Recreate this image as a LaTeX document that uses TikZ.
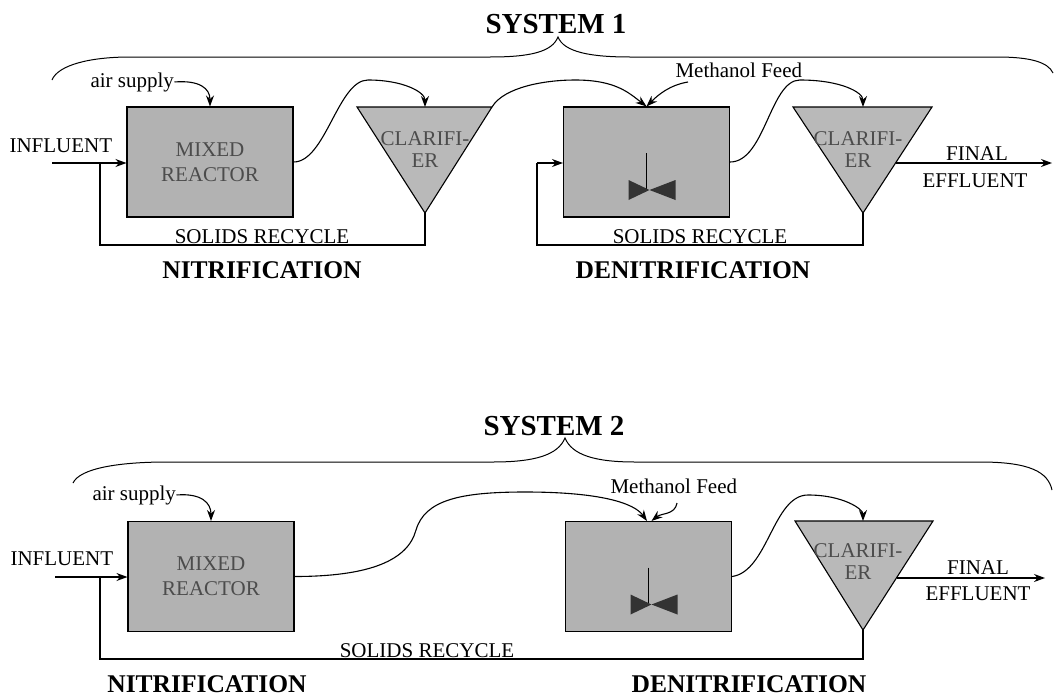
\documentclass[tikz,border=0pt]{standalone}
\usepackage{fontspec}
\setmainfont{Liberation Serif}
\usetikzlibrary{arrows.meta}

\begin{document}
\begin{tikzpicture}[x=1pt,y=-1pt,line width=1.1pt,
  lbl/.style={font=\fontsize{21}{22}\selectfont,inner sep=0pt},
  ttl/.style={font=\fontsize{25.5}{28}\selectfont\bfseries,inner sep=0pt},
  reactor/.style={draw,fill=gray!60,minimum width=166pt,minimum height=110pt,
    inner sep=0pt,align=center,text=black!70,font=\fontsize{21}{25}\selectfont},
  clar/.style={draw,fill=gray!55},
  clartxt/.style={inner sep=0pt,align=center,text=black!70,font=\fontsize{21}{22}\selectfont},
  flow/.style={-{Stealth[length=11pt,width=8pt]}},
  imp/.style={fill=black!80}]

\useasboundingbox (0,0) rectangle (1058,699);

% ---------------- SYSTEM 1 ----------------
\node[font=\fontsize{29}{30}\selectfont\bfseries,inner sep=0pt,anchor=base] (sys1) at (556,33) {SYSTEM 1};
\draw[line width=1pt] (52,80) .. controls (58,65) and (90,57) .. (130,57) -- (490,57)
    .. controls (530,57) and (552,52) .. (558,37) .. controls (564,52) and (590,57) .. (630,57)
    -- (997,57) .. controls (1030,57) and (1048,62) .. (1053,73);

\node[reactor] (mr1) at (210,162) {MIXED\\REACTOR};
\node[reactor] (dn1) at (646.5,162) {};

\coordinate (cl1a) at (357,107);
\coordinate (cl1c) at (492,107);
\coordinate (cl1b) at (425,213);
\coordinate (cl1t) at (425,107);
\draw[clar] (cl1a) -- (cl1c) -- (cl1b) -- cycle;
\node[clartxt] (cl1) at (425,150) {CLARIFI-\\ER};

\coordinate (cl2a) at (793,107);
\coordinate (cl2c) at (932,107);
\coordinate (cl2b) at (863,213);
\coordinate (cl2t) at (863,107);
\draw[clar] (cl2a) -- (cl2c) -- (cl2b) -- cycle;
\node[clartxt] (cl2) at (858,150) {CLARIFI-\\ER};

\node[lbl,anchor=base west] (air1) at (90,87) {air supply};
\node[lbl,anchor=base west] (inf1) at (9,152) {INFLUENT};
\node[lbl,anchor=base west] (meth1) at (675,77) {Methanol Feed};
\node[lbl,anchor=base] (fin1) at (977,160) {FINAL};
\node[lbl,anchor=base] (eff1) at (975,187) {EFFLUENT};
\node[lbl,anchor=base] (sr1) at (262,243) {SOLIDS RECYCLE};
\node[lbl,anchor=base] (sr2) at (700,243) {SOLIDS RECYCLE};
\node[ttl,anchor=base] (nit1) at (262,278) {NITRIFICATION};
\node[ttl,anchor=base] (den1) at (693,278) {DENITRIFICATION};

\coordinate (in1) at (52,163);
\coordinate (jn1) at (100,163);
\coordinate (jn2) at (537,163);
\coordinate (pk1) at (368,80);
\coordinate (pk2) at (575,80);
\coordinate (pk3) at (800,80);
\coordinate (mf1) at (688,82);
\coordinate (fe1a) at (896,163);
\coordinate (fe1b) at (1052,163);

\draw[flow] (in1) -- (mr1.west |- in1);
\draw[flow] (air1.east) .. controls +(25,-2) and +(0,-18) .. (mr1.north);
\draw (cl1b) -- (cl1b |- 0,245) -| (jn1);
\draw[flow] (mr1.east) .. controls +(32,0) and +(-30,0) .. (pk1) .. controls +(35,0) and +(0,-15) .. (cl1t);
\draw[flow] (cl1c) .. controls +(12,-20) and +(-30,0) .. (pk2) .. controls +(40,0) and +(-18,-14) .. (dn1.north);
\draw[flow] (mf1) .. controls +(-18,3) and +(12,-12) .. (dn1.north);
\draw (cl2b) -- (cl2b |- 0,245) -| (jn2);
\draw[flow] (jn2) -- (dn1.west |- jn2);
\draw[flow] (dn1.east) .. controls +(35,0) and +(-30,0) .. (pk3) .. controls +(40,0) and +(0,-15) .. (cl2t);
\draw[flow] (fe1a) -- (fe1b);

% ---------------- SYSTEM 2 ----------------
\node[font=\fontsize{29}{30}\selectfont\bfseries,inner sep=0pt,anchor=base] (sys2) at (554,435) {SYSTEM 2};
\draw[line width=1pt] (73,483) .. controls (80,468) and (120,462) .. (167,462) -- (493,462)
    .. controls (535,462) and (558,455) .. (565,438) .. controls (572,455) and (595,462) .. (635,462)
    -- (980,462) .. controls (1030,462) and (1048,472) .. (1052,490);

\node[reactor] (mr2) at (211,576.5) {MIXED\\REACTOR};
\node[reactor] (dn2) at (648.5,576.5) {};

\coordinate (cl3a) at (795,521);
\coordinate (cl3c) at (933,521);
\coordinate (cl3b) at (863,630);
\coordinate (cl3t) at (863,521);
\draw[clar] (cl3a) -- (cl3c) -- (cl3b) -- cycle;
\node[clartxt] (cl3) at (858,562) {CLARIFI-\\ER};

\node[lbl,anchor=base west] (air2) at (92,500) {air supply};
\node[lbl,anchor=base west] (inf2) at (10,565) {INFLUENT};
\node[lbl,anchor=base west] (meth2) at (610,493) {Methanol Feed};
\node[lbl,anchor=base] (fin2) at (978,574) {FINAL};
\node[lbl,anchor=base] (eff2) at (978,600) {EFFLUENT};
\node[lbl,anchor=base] (sr3) at (427,657) {SOLIDS RECYCLE};
\node[ttl,anchor=base] (nit2) at (207,692) {NITRIFICATION};
\node[ttl,anchor=base] (den2) at (749,692) {DENITRIFICATION};

\coordinate (in2) at (55,577);
\coordinate (jn3) at (100,577);
\coordinate (pk4) at (416,530);
\coordinate (pk5) at (525,492);
\coordinate (pk6) at (808,495);
\coordinate (mf2) at (677,503);
\coordinate (fe2a) at (897,578);
\coordinate (fe2b) at (1045,578);

\draw[flow] (in2) -- (mr2.west |- in2);
\draw[flow] (air2.east) .. controls +(25,-2) and +(0,-18) .. (mr2.north);
\draw (cl3b) -- (cl3b |- 0,659) -| (jn3);
\draw[flow] (mr2.east) .. controls +(76,0) and +(-8,30) .. (pk4) .. controls +(9,-30) and +(-65,0) .. (pk5)
    .. controls +(75,0) and +(-13,-18) .. ([xshift=-1.5pt]dn2.north);
\draw[flow] (mf2) .. controls +(-2,12) and +(10,-8) .. ([xshift=3pt]dn2.north);
\draw[flow] (dn2.east) .. controls +(36,-5) and +(-35,0) .. (pk6) .. controls +(35,0) and +(0,-12) .. (cl3t);
\draw[flow] (fe2a) -- (fe2b);

% impellers
\foreach \b in {dn1,dn2} {
  \draw[line width=1.3pt] ([shift={(0,-9)}]\b.center) -- ([shift={(0,28)}]\b.center);
  \fill[imp] ([shift={(-18,18)}]\b.center) -- ([shift={(3,28)}]\b.center) -- ([shift={(-18,38)}]\b.center) -- cycle;
  \fill[imp] ([shift={(29,18)}]\b.center) -- ([shift={(3,28)}]\b.center) -- ([shift={(29,38)}]\b.center) -- cycle;
}

\end{tikzpicture}
\end{document}
